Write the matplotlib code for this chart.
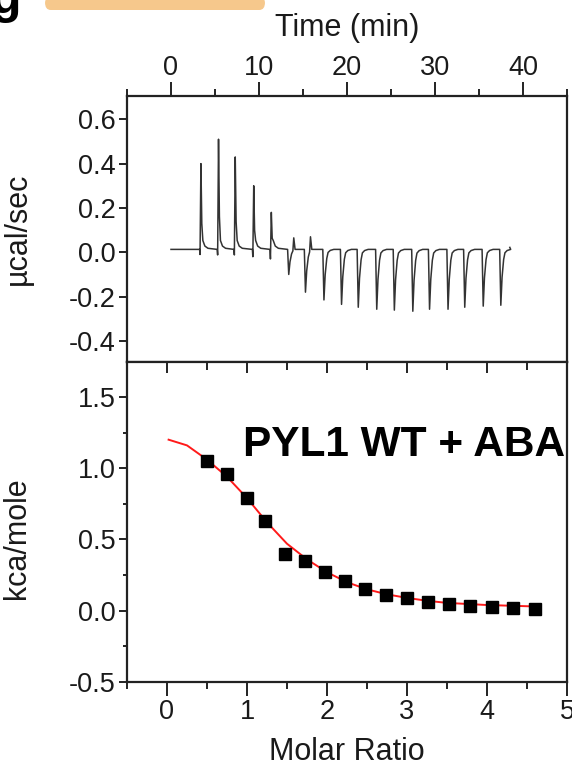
import numpy as np
import matplotlib
matplotlib.use('Agg')
import matplotlib.pyplot as plt
from matplotlib.ticker import MultipleLocator
from matplotlib.patches import FancyBboxPatch

plt.rcParams['font.family'] = ['Liberation Sans', 'DejaVu Sans']

# raw ITC trace
inj_time = [3.3, 5.3, 7.2, 9.3, 11.3, 13.3, 15.2, 17.3, 19.3, 21.2, 23.3, 25.3,
            27.4, 29.3, 31.4, 33.3, 35.4, 37.4]
peak_up = [0.40, 0.51, 0.43, 0.30, 0.18, 0.065, 0.07, 0, 0, 0, 0, 0, 0, 0, 0, 0, 0, 0]
peak_down = [-0.01, -0.012, -0.012, -0.02, -0.03, -0.10, -0.18, -0.215, -0.235, -0.248,
             -0.257, -0.261, -0.266, -0.257, -0.257, -0.248, -0.243, -0.239]
baseline = 0.013
trace_start, trace_end, trace_end_val = 0.0, 38.5, 0.022

# integrated heats
molar_ratio = [0.50, 0.75, 1.00, 1.23, 1.48, 1.72, 1.97, 2.22, 2.48, 2.74, 3.00, 3.26,
               3.53, 3.79, 4.06, 4.33, 4.60]
heat = [1.05, 0.96, 0.79, 0.63, 0.40, 0.35, 0.27, 0.21, 0.15, 0.11, 0.09, 0.06,
        0.045, 0.035, 0.028, 0.022, 0.015]
fit_x = [0.02, 0.25, 0.5, 0.75, 1.0, 1.25, 1.5, 1.75, 2.0, 2.25, 2.5, 2.75, 3.0,
         3.25, 3.5, 4.0, 4.6]
fit_y = [1.20, 1.16, 1.06, 0.94, 0.79, 0.62, 0.47, 0.36, 0.27, 0.20, 0.15, 0.115,
         0.09, 0.07, 0.055, 0.04, 0.03]

# build the polyline of the raw trace from the injection values
tt = [trace_start]
yy = [baseline]
b = baseline
for t, up, dn in zip(inj_time, peak_up, peak_down):
    tt.append(t - 0.05); yy.append(b)
    if up > 0.1:
        d = up - b
        tt += [t, t + 0.1, t + 0.2, t + 0.32, t + 0.55, t + 0.9]
        yy += [dn, up, b + 0.3 * d, b + 0.04, b + 0.015, b + 0.005]
    else:
        d = dn - b
        tt += [t + 0.08, t + 0.22, t + 0.4, t + 0.55]
        yy += [dn, b + 0.5 * d, b + 0.18 * d, b + 0.06 * d]
        if up > 0:
            tt += [t + 0.65, t + 0.8]
            yy += [up, b]
        else:
            tt += [t + 0.8, t + 1.2]
            yy += [b + 0.02 * d, b]
tt.append(trace_end); yy.append(trace_end_val)

fig = plt.figure(figsize=(5.72, 7.72), dpi=100)
L, R = 127 / 572, 567 / 572
ax1 = fig.add_axes([L, 1 - 362 / 772, R - L, (362 - 96) / 772])
ax2 = fig.add_axes([L, 1 - 682 / 772, R - L, (682 - 362) / 772])

dark = '#222222'
for ax in (ax1, ax2):
    for s in ax.spines.values():
        s.set_linewidth(1.6)
        s.set_color(dark)
    ax.tick_params(colors=dark, labelcolor='#1a1a1a', width=1.4, labelsize=19.5)

# top panel
ax1.plot(tt, yy, color='#333333', lw=1.1)
ax1.set_xlim(-5, 45)
ax1.set_ylim(-0.495, 0.705)
ax1.xaxis.tick_top()
ax1.xaxis.set_label_position('top')
ax1.xaxis.set_minor_locator(MultipleLocator(5))
ax1.set_xticks([0, 10, 20, 30, 40])
ax1.set_yticks([-0.4, -0.2, 0.0, 0.2, 0.4, 0.6])
ax1.set_yticklabels(['-0.4', '-0.2', '0.0', '0.2', '0.4', '0.6'])
ax1.tick_params(axis='x', which='major', direction='out', length=10, pad=0.5)
ax1.tick_params(axis='x', which='minor', direction='out', length=5, width=1.4, colors=dark)
ax1.tick_params(axis='y', which='major', direction='out', length=6, pad=2)
ax1.set_xlabel('Time (min)', fontsize=22, color='#1a1a1a', labelpad=14)
ax1.set_ylabel('\u00b5cal/sec', fontsize=22, color='#1a1a1a')
ax1.yaxis.set_label_coords(-0.215, 0.5)

# bottom panel
ax2.plot(fit_x, fit_y, color='#ff1a1a', lw=1.4, zorder=2)
ax2.plot(molar_ratio, heat, 's', color='black', ms=8, zorder=3)
ax2.set_xlim(-0.5, 5.0)
ax2.set_ylim(-0.5, 1.745)
ax2.set_xticks([0, 1, 2, 3, 4, 5])
ax2.xaxis.set_minor_locator(MultipleLocator(0.5))
ax2.set_yticks([-0.5, 0.0, 0.5, 1.0, 1.5])
ax2.set_yticklabels(['-0.5', '0.0', '0.5', '1.0', '1.5'])
ax2.yaxis.set_minor_locator(MultipleLocator(0.25))
ax2.tick_params(axis='x', which='major', direction='out', length=10, pad=2, top=True)
ax2.tick_params(axis='x', which='minor', direction='out', length=5, width=1.4, colors=dark, top=True)
ax2.tick_params(axis='y', which='major', direction='out', length=6, pad=2)
ax2.tick_params(axis='y', which='minor', direction='out', length=3, width=1.4, colors=dark)
# inward ticks on the shared border
majors = ax2.xaxis.get_major_ticks()
for tk in majors + ax2.xaxis.get_minor_ticks():
    tk.tick2line.set_marker(3)
    tk.tick2line.set_markersize(8 if tk in majors else 6)
ax2.set_xlabel('Molar Ratio', fontsize=22, color='#1a1a1a', labelpad=9)
ax2.set_ylabel('kca/mole', fontsize=22, color='#1a1a1a')
ax2.yaxis.set_label_coords(-0.215, 0.45)
ax2.text(4.975, 1.16, 'PYL1 WT + ABA', fontsize=30.5, fontweight='bold',
         ha='right', va='center', color='black')

# slide decoration in the top-left corner
fig.patches.append(FancyBboxPatch((45 / 572, 1 - 10 / 772), 220 / 572, 14 / 772,
                                  boxstyle='round,pad=0,rounding_size=0.01',
                                  transform=fig.transFigure, facecolor='#f6c88c',
                                  edgecolor='none', zorder=0))
fig.text(-0.015, 1.03, 'g', fontsize=36, fontweight='bold', color='black',
         ha='left', va='top')

fig.savefig('out.png', dpi=100)
